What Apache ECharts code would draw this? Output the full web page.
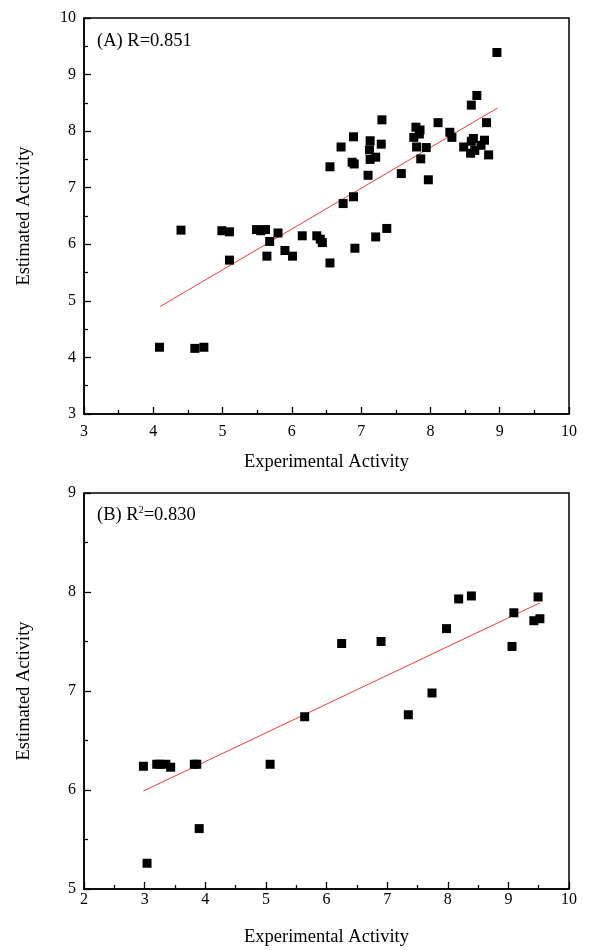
<!DOCTYPE html>
<html>
<head>
<meta charset="utf-8">
<script src="https://cdn.jsdelivr.net/npm/echarts@6/dist/echarts.min.js"></script>
<style>html,body{margin:0;padding:0;background:#fff;}#c{width:600px;height:950px;}</style>
</head>
<body>
<div id="c"></div>
<script>
// Panel A data: experimental vs estimated activity
const expA = [4.09,4.60,4.73,4.40,4.99,5.10,5.10,5.49,5.55,5.62,5.80,5.68,5.64,5.90,6.01,6.15,6.36,6.41,6.44,6.55,6.91,7.21,7.37,6.74,6.89,6.55,6.87,6.90,6.71,6.89,7.13,7.29,7.12,7.21,7.13,7.10,7.30,7.58,7.97,7.79,7.85,7.84,7.76,7.80,7.94,7.86,8.11,8.28,8.31,8.48,8.62,8.59,8.78,8.73,8.64,8.58,8.84,8.81,8.59,8.67,8.96];
const estA = [4.18,4.16,4.18,6.25,6.24,6.22,5.72,6.26,6.24,6.26,6.20,6.05,5.79,5.89,5.79,6.15,6.15,6.09,6.03,5.67,5.93,6.13,6.28,6.72,6.84,7.37,7.45,7.42,7.72,7.90,7.83,7.77,7.67,7.54,7.50,7.22,8.20,7.25,7.14,8.07,8.02,7.95,7.89,7.72,7.71,7.51,8.15,7.98,7.89,7.72,7.87,7.82,7.84,7.75,7.66,7.61,7.58,8.15,8.46,8.63,9.39];
const fitAx = [4.10, 8.97];
const fitAy = [4.90, 8.41];
// Panel B data
const expB = [2.98,3.04,3.20,3.25,3.35,3.43,3.82,3.86,3.90,5.07,5.64,6.25,6.90,7.35,7.74,7.98,8.18,8.39,9.06,9.09,9.49,9.42,9.52];
const estB = [6.24,5.26,6.26,6.26,6.26,6.23,6.26,6.26,5.61,6.26,6.74,7.48,7.50,6.76,6.98,7.63,7.93,7.96,7.45,7.79,7.95,7.71,7.73];
const fitBx = [2.98, 9.52];
const fitBy = [5.99, 7.89];
const labelA = "(A) R=0.851";
const labelB = ["(B) R", "2", "=0.830"];
const xNameText = "Experimental Activity";
const yNameText = "Estimated Activity";

const FONT = "'Liberation Serif','Times New Roman',serif";
const pairs = (xs, ys) => xs.map((v, i) => [v, ys[i]]);

function xAxis(gi, min, max, lblMargin) {
  return {
    gridIndex: gi, type: 'value', min: min, max: max, interval: 1,
    name: xNameText, nameLocation: 'middle', nameGap: 39,
    nameTextStyle: {fontFamily: FONT, fontSize: 18.5, color: '#000'},
    axisLine: {show: true, onZero: false, lineStyle: {color: '#000', width: 1.5}},
    axisTick: {show: true, inside: true, length: 7, lineStyle: {color: '#000', width: 1.3}},
    minorTick: {show: true, splitNumber: 2, length: 4, lineStyle: {color: '#000', width: 1.3}},
    axisLabel: {fontFamily: FONT, fontSize: 16, color: '#000', margin: lblMargin},
    splitLine: {show: false}
  };
}
function yAxis(gi, min, max) {
  return {
    gridIndex: gi, type: 'value', min: min, max: max, interval: 1,
    name: yNameText, nameLocation: 'middle', nameGap: 50, nameRotate: 90,
    nameTextStyle: {fontFamily: FONT, fontSize: 18.5, color: '#000'},
    axisLine: {show: true, onZero: false, lineStyle: {color: '#000', width: 1.5}},
    axisTick: {show: true, inside: true, length: 7, lineStyle: {color: '#000', width: 1.3}},
    minorTick: {show: true, splitNumber: 2, length: 4, lineStyle: {color: '#000', width: 1.3}},
    axisLabel: {fontFamily: FONT, fontSize: 16, color: '#000', margin: 8},
    splitLine: {show: false}
  };
}

const chart = echarts.init(document.getElementById('c'), null, {renderer: 'canvas'});
chart.setOption({
  backgroundColor: '#fff',
  animation: false,
  grid: [
    {left: 84, top: 18, width: 485, height: 396, show: true, borderColor: '#000', borderWidth: 1.5, backgroundColor: 'transparent'},
    {left: 84, top: 493, width: 485, height: 396, show: true, borderColor: '#000', borderWidth: 1.5, backgroundColor: 'transparent'}
  ],
  xAxis: [xAxis(0, 3, 10, 10), xAxis(1, 2, 10, 3)],
  yAxis: [yAxis(0, 3, 10), yAxis(1, 5, 9)],
  graphic: [
    {type: 'text', left: 97, top: 32, style: {text: labelA, font: "18.5px " + FONT, fill: '#000'}},
    {type: 'text', left: 97, top: 503, style: {
      text: '{a|' + labelB[0] + '}{s|' + labelB[1] + '}{a|' + labelB[2] + '}',
      rich: {
        a: {fontFamily: FONT, fontSize: 18.5, lineHeight: 24, fill: '#000', color: '#000', verticalAlign: 'middle'},
        s: {fontFamily: FONT, fontSize: 10, lineHeight: 10, fill: '#000', color: '#000', verticalAlign: 'top', padding: [2, 0, 0, 0]}
      }
    }}
  ],
  series: [
    {type: 'line', xAxisIndex: 0, yAxisIndex: 0, data: pairs(fitAx, fitAy), symbol: 'none',
     lineStyle: {color: '#f23a3a', width: 1}, z: 1},
    {type: 'scatter', xAxisIndex: 0, yAxisIndex: 0, data: pairs(expA, estA), symbol: 'rect', symbolSize: 9,
     itemStyle: {color: '#000', opacity: 1}, z: 2},
    {type: 'line', xAxisIndex: 1, yAxisIndex: 1, data: pairs(fitBx, fitBy), symbol: 'none',
     lineStyle: {color: '#f23a3a', width: 1}, z: 1},
    {type: 'scatter', xAxisIndex: 1, yAxisIndex: 1, data: pairs(expB, estB), symbol: 'rect', symbolSize: 9,
     itemStyle: {color: '#000', opacity: 1}, z: 2}
  ]
});
</script>
</body>
</html>
